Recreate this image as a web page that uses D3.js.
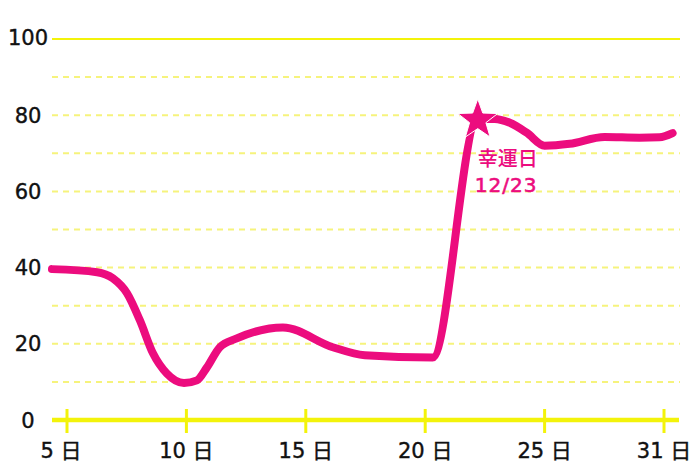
<!DOCTYPE html>
<html><head><meta charset="utf-8">
<script src="https://cdn.jsdelivr.net/npm/d3@7"></script>
<style>
html,body{margin:0;padding:0;background:#fff;}
svg{display:block;font-family:"DejaVu Sans","Noto Sans CJK JP",sans-serif;}
</style></head>
<body>
<svg id="chart" width="700" height="467"></svg>
<script>
// ---- data ----
const days   = [4.37, 6.26, 6.92, 7.51, 8.05, 8.6, 9.18, 9.9, 10.44, 10.86, 11.4, 12.11, 14.04, 16.13, 17.47, 20.31, 22.2, 22.91, 23.54, 24.25, 25.0, 26.05, 27.51, 28.97, 29.81, 30.36];
const values = [39.6, 38.8, 37.2, 33.3, 26.2, 17.5, 12.2, 9.7, 10.4, 13.8, 19.1, 21.4, 24.3, 19.1, 17.0, 16.4, 79.0, 79.0, 78.0, 75.4, 72.0, 72.5, 74.3, 74.1, 74.2, 75.3];
const xTickValues = [5, 10, 15, 20, 25, 30];
const xTickLabels = ["5 日", "10 日", "15 日", "20 日", "25 日", "31 日"];
const yTickValues = [0, 20, 40, 60, 80, 100];
const gridValues  = [10, 20, 30, 40, 50, 60, 70, 80, 90];
const luckyDay    = {day: 22.2, value: 79.0, title: "幸運日", date: "12/23"};

const svg = d3.select("#chart");
const x = d3.scaleLinear().domain([5, 30]).range([67, 664]);
const y = d3.scaleLinear().domain([0, 100]).range([420, 39]);
const x0 = 52, x1 = 680;
const YEL = "#f3f30a", MAG = "#ec0c7e";

// dashed grid
svg.append("g").selectAll("line").data(gridValues).join("line")
  .attr("x1", x0).attr("x2", x1)
  .attr("y1", d => y(d)).attr("y2", d => y(d))
  .attr("stroke", "#f6f37c").attr("stroke-width", 2)
  .attr("stroke-dasharray", "6 5");
// top solid line at 100
svg.append("line").attr("x1", x0).attr("x2", x1)
  .attr("y1", y(100)).attr("y2", y(100))
  .attr("stroke", YEL).attr("stroke-width", 2);

// y labels
svg.append("g").selectAll("text").data(yTickValues).join("text")
  .attr("x", 28).attr("y", d => y(d))
  .attr("dy", d => d === 100 ? "0.3em" : "0.36em")
  .attr("text-anchor", "middle")
  .attr("font-size", 21).attr("fill", "#111")
  .attr("stroke", "#111").attr("stroke-width", 0.4)
  .text(d => d);

// x axis
svg.append("line").attr("x1", x0).attr("x2", x1 - 1)
  .attr("y1", y(0)).attr("y2", y(0))
  .attr("stroke", YEL).attr("stroke-width", 4.5);
svg.append("g").selectAll("line").data(xTickValues).join("line")
  .attr("x1", d => x(d)).attr("x2", d => x(d))
  .attr("y1", 409).attr("y2", 433)
  .attr("stroke", YEL).attr("stroke-width", 3);
svg.append("g").selectAll("text").data(xTickValues).join("text")
  .attr("x", (d, i) => x(d) - (i === 0 ? 6 : 0)).attr("y", 458)
  .attr("text-anchor", "middle")
  .attr("font-size", 21).attr("fill", "#111")
  .attr("stroke", "#111").attr("stroke-width", 0.4)
  .text((d, i) => xTickLabels[i]);

// line
const pts = days.map((d, i) => [d, values[i]]);
const line = d3.line().x(d => x(d[0])).y(d => y(d[1])).curve(d3.curveMonotoneX);
svg.append("path").datum(pts).attr("d", line)
  .attr("fill", "none").attr("stroke", MAG).attr("stroke-width", 8)
  .attr("stroke-linecap", "round").attr("stroke-linejoin", "round");

// star
const R = 21, r = 8.6;
const starPts = d3.range(10).map(i => {
  const a = -Math.PI / 2 + i * Math.PI / 5;
  const rad = i % 2 === 0 ? R : r;
  return [Math.cos(a) * rad, Math.sin(a) * rad];
});
svg.append("path")
  .attr("d", "M" + starPts.map(p => p.join(",")).join("L") + "Z")
  .attr("transform", `translate(${x(luckyDay.day)},${y(luckyDay.value) + 1})`)
  .attr("fill", MAG).attr("stroke", "#fff").attr("stroke-width", 1);

// annotation
svg.append("text").attr("x", x(luckyDay.day)).attr("y", 166)
  .attr("font-family", "Noto Sans CJK JP")
  .attr("font-size", 20).attr("font-weight", 500).attr("fill", MAG).text(luckyDay.title);
svg.append("text").attr("x", x(luckyDay.day) - 3).attr("y", 192)
  .attr("font-size", 20).attr("letter-spacing", 1).attr("fill", MAG)
  .attr("stroke", MAG).attr("stroke-width", 0.6).text(luckyDay.date);
</script>
</body></html>
